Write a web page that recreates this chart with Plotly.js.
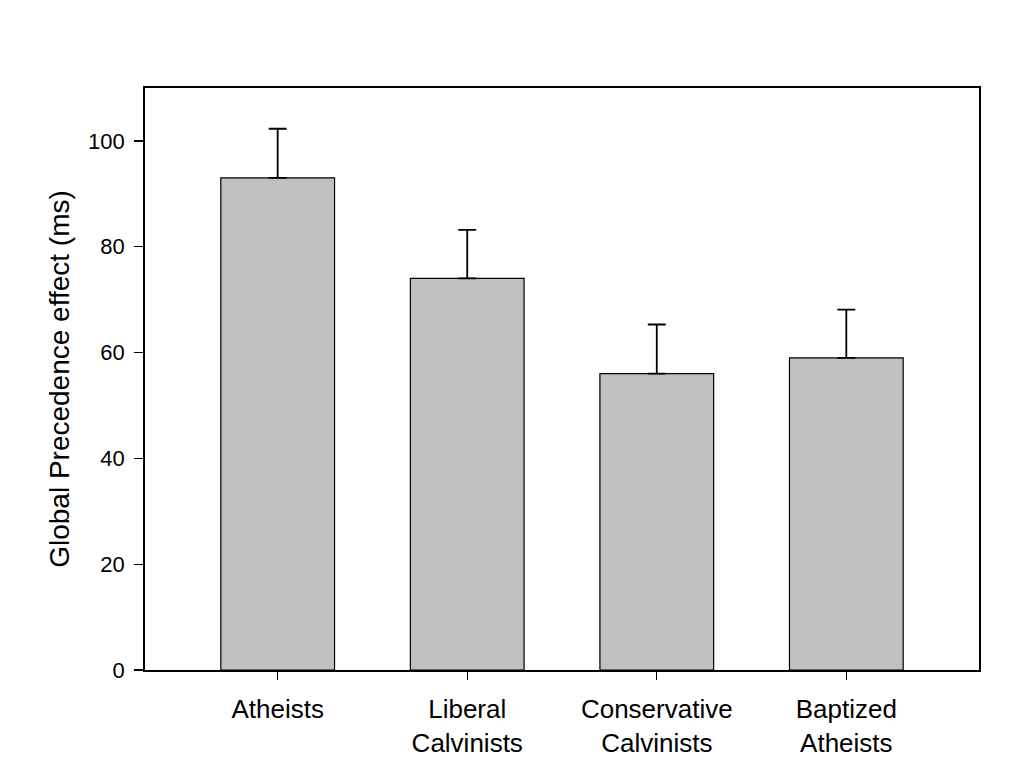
<!DOCTYPE html>
<html>
<head>
<meta charset="utf-8">
<script src="https://cdn.plot.ly/plotly-3.0.1.min.js"></script>
<style>html,body{margin:0;padding:0;background:#fff;}#chart{width:1024px;height:761px;}</style>
</head>
<body>
<div id="chart"></div>
<script>
const categories = ["Atheists", "Liberal<br>Calvinists", "Conservative<br>Calvinists", "Baptized<br>Atheists"];
const means = [93, 74, 56, 59];
const errors = [9.3, 9.2, 9.3, 9.1];
const yTicks = [0, 20, 40, 60, 80, 100];

const trace = {
  type: "bar",
  x: categories,
  y: means,
  width: 0.6,
  marker: {color: "#c0c0c0", line: {color: "#000", width: 1.2}},
  error_y: {type: "data", symmetric: false, array: errors, arrayminus: errors.map(() => 0), color: "#000", thickness: 1.8, width: 9, visible: true},
  hoverinfo: "none"
};

const layout = {
  width: 1024, height: 761,
  margin: {l: 145, r: 45, t: 88, b: 91},
  paper_bgcolor: "#fff", plot_bgcolor: "#fff",
  showlegend: false,
  font: {family: "Liberation Sans, Arial, sans-serif", color: "#000"},
  xaxis: {
    type: "category",
    range: [-0.7, 3.7],
    showline: true, mirror: true, linecolor: "#000", linewidth: 1.8,
    ticks: "outside", ticklen: 8, tickwidth: 1.2, tickcolor: "#000",
    tickfont: {size: 26},
    ticklabelstandoff: 7,
    showgrid: false, zeroline: false
  },
  yaxis: {
    range: [0, 110],
    tickvals: yTicks,
    showline: true, mirror: true, linecolor: "#000", linewidth: 1.8,
    ticks: "outside", ticklen: 9, tickwidth: 1.2, tickcolor: "#000",
    tickfont: {size: 22},
    ticklabelstandoff: 5,
    showgrid: false, zeroline: false,
    title: {text: "Global Precedence effect (ms)", font: {size: 28}, standoff: 10}
  }
};

Plotly.newPlot("chart", [trace], layout, {displayModeBar: false, staticPlot: true});
</script>
</body>
</html>
